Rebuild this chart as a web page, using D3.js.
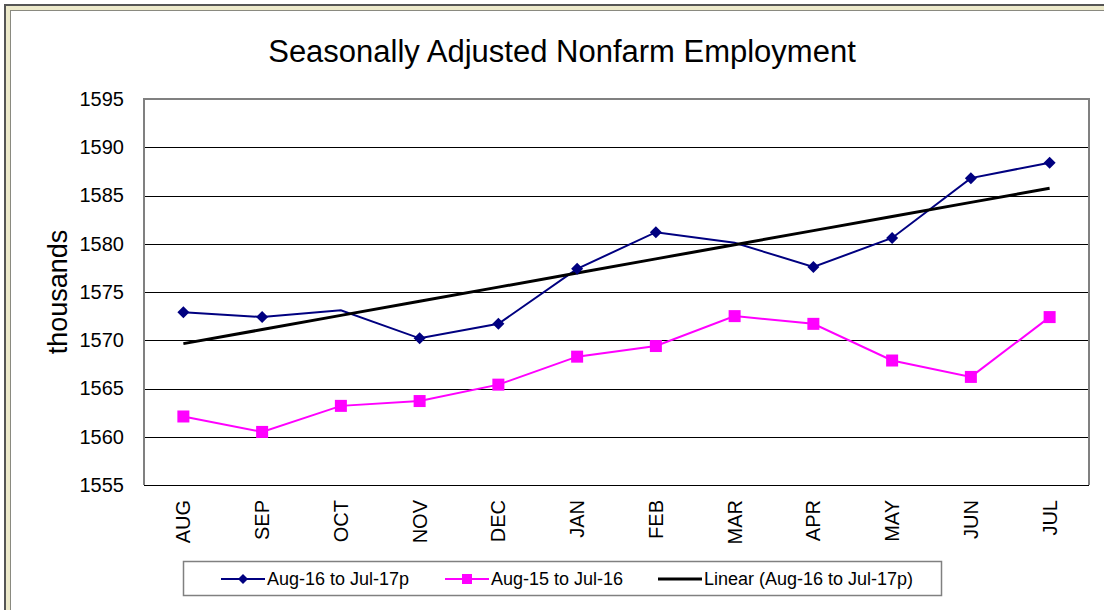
<!DOCTYPE html>
<html>
<head>
<meta charset="utf-8">
<script src="https://cdn.jsdelivr.net/npm/d3@7"></script>
<style>
  body { margin: 0; background: #fff; }
  text { font-family: "Liberation Sans", Arial, sans-serif; }
</style>
</head>
<body>
<div id="chart"></div>
<script>
// data
const months = ["AUG", "SEP", "OCT", "NOV", "DEC", "JAN", "FEB", "MAR", "APR", "MAY", "JUN", "JUL"];
const current = [1572.9, 1572.4, 1573.1, 1570.2, 1571.7, 1577.4, 1581.2, 1580.1, 1577.6, 1580.6, 1586.8, 1588.4];
const previous = [1562.1, 1560.5, 1563.2, 1563.7, 1565.4, 1568.3, 1569.4, 1572.5, 1571.7, 1567.9, 1566.2, 1572.4];
const noMarker = ["OCT", "MAR"]; // points of the first series drawn without a diamond
const yTicks = [1555, 1560, 1565, 1570, 1575, 1580, 1585, 1590, 1595];
const seriesNames = ["Aug-16 to Jul-17p", "Aug-15 to Jul-16", "Linear (Aug-16 to Jul-17p)"];

const W = 1104, H = 610;
const pLeft = 144, pRight = 1089, pTop = 99, pBottom = 485;

const svg = d3.select("#chart").append("svg")
  .attr("width", W).attr("height", H);

// outer frame (cut off on the right and bottom)
svg.append("rect").attr("x", 4).attr("y", 4).attr("width", 1200).attr("height", 800).attr("fill", "#555");
svg.append("rect").attr("x", 6).attr("y", 6).attr("width", 1200).attr("height", 800).attr("fill", "#ECE9CA");
svg.append("rect").attr("x", 10).attr("y", 10).attr("width", 1200).attr("height", 800).attr("fill", "#8a8a80");
svg.append("rect").attr("x", 11).attr("y", 11).attr("width", 1200).attr("height", 800).attr("fill", "#fff");

const x = d3.scaleBand().domain(months).range([pLeft, pRight]);
const y = d3.scaleLinear().domain([1555, 1595]).range([pBottom, pTop]);
const cx = d => x(d) + x.bandwidth() / 2;

// title
svg.append("text")
  .attr("x", 562).attr("y", 62)
  .attr("text-anchor", "middle")
  .attr("font-size", 31)
  .text("Seasonally Adjusted Nonfarm Employment");

// gridlines
svg.append("g").selectAll("line")
  .data(yTicks.filter(t => t !== 1595)).enter()
  .append("line")
  .attr("x1", pLeft).attr("x2", pRight)
  .attr("y1", d => Math.round(y(d)) + 0.5).attr("y2", d => Math.round(y(d)) + 0.5)
  .attr("stroke", "#000").attr("stroke-width", 1);

// plot border (left, top, right)
svg.append("path")
  .attr("d", `M${pLeft},${pBottom}V${pTop}H${pRight}V${pBottom}`)
  .attr("fill", "none").attr("stroke", "#808080").attr("stroke-width", 2);

// y axis labels
const yAxis = svg.append("g")
  .attr("transform", `translate(${pLeft},0)`)
  .call(d3.axisLeft(y).tickValues(yTicks).tickSize(0).tickPadding(20).tickFormat(d3.format("d")));
yAxis.select(".domain").remove();
yAxis.selectAll("text").attr("font-size", 20).attr("fill", "#000")
  .attr("font-family", "'Liberation Sans', Arial, sans-serif");

// x axis labels
const xAxis = svg.append("g")
  .attr("transform", `translate(0,${pBottom})`)
  .call(d3.axisBottom(x).tickSize(0).tickPadding(0));
xAxis.select(".domain").remove();
xAxis.selectAll("text")
  .attr("font-size", 20).attr("fill", "#000")
  .attr("font-family", "'Liberation Sans', Arial, sans-serif")
  .attr("text-anchor", "end")
  .attr("transform", "rotate(-90)")
  .attr("x", -15).attr("y", 0).attr("dy", "0.35em");

// y title
svg.append("text")
  .attr("transform", "translate(67,292) rotate(-90)")
  .attr("text-anchor", "middle")
  .attr("font-size", 27)
  .text("thousands");

// linear trend from the first series
const n = current.length;
const mx = (n - 1) / 2, my = d3.mean(current);
const slope = d3.sum(current, (v, i) => (i - mx) * (v - my)) / d3.sum(current, (v, i) => (i - mx) * (i - mx));
const trend = months.map((m, i) => my + slope * (i - mx));

const line = d3.line().x((d, i) => cx(months[i])).y(d => y(d));

svg.append("path").datum(previous).attr("d", line)
  .attr("fill", "none").attr("stroke", "#FF00FF").attr("stroke-width", 2);
svg.append("path").datum(current).attr("d", line)
  .attr("fill", "none").attr("stroke", "#000080").attr("stroke-width", 2);
svg.append("path").datum(trend).attr("d", line)
  .attr("fill", "none").attr("stroke", "#000").attr("stroke-width", 3);

// markers
svg.append("g").selectAll("rect")
  .data(previous).enter().append("rect")
  .attr("x", (d, i) => cx(months[i]) - 6).attr("y", d => y(d) - 6)
  .attr("width", 12).attr("height", 12).attr("fill", "#FF00FF");

const diamond = (s) => `M0,${-s}L${s},0L0,${s}L${-s},0Z`;
svg.append("g").selectAll("path")
  .data(current.map((v, i) => ({ m: months[i], v })).filter(d => !noMarker.includes(d.m))).enter()
  .append("path")
  .attr("transform", d => `translate(${cx(d.m)},${y(d.v)})`)
  .attr("d", diamond(6)).attr("fill", "#000080");

// legend
const lg = svg.append("g");
lg.append("rect").attr("x", 183.5).attr("y", 561.5).attr("width", 758).attr("height", 34)
  .attr("fill", "#fff").attr("stroke", "#808080").attr("stroke-width", 1.5);

const items = [
  { name: seriesNames[0], x0: 221, color: "#000080", w: 2, mark: "diamond" },
  { name: seriesNames[1], x0: 445, color: "#FF00FF", w: 2, mark: "square" },
  { name: seriesNames[2], x0: 658, color: "#000", w: 3, mark: null }
];
const ly = 579;
items.forEach(it => {
  lg.append("line").attr("x1", it.x0).attr("x2", it.x0 + 44).attr("y1", ly).attr("y2", ly)
    .attr("stroke", it.color).attr("stroke-width", it.w);
  if (it.mark === "diamond") {
    lg.append("path").attr("transform", `translate(${it.x0 + 22},${ly})`).attr("d", diamond(5)).attr("fill", it.color);
  } else if (it.mark === "square") {
    lg.append("rect").attr("x", it.x0 + 17).attr("y", ly - 5).attr("width", 10).attr("height", 10).attr("fill", it.color);
  }
  lg.append("text").attr("x", it.x0 + 46).attr("y", ly).attr("dy", "0.35em")
    .attr("font-size", 18).text(it.name);
});
</script>
</body>
</html>
